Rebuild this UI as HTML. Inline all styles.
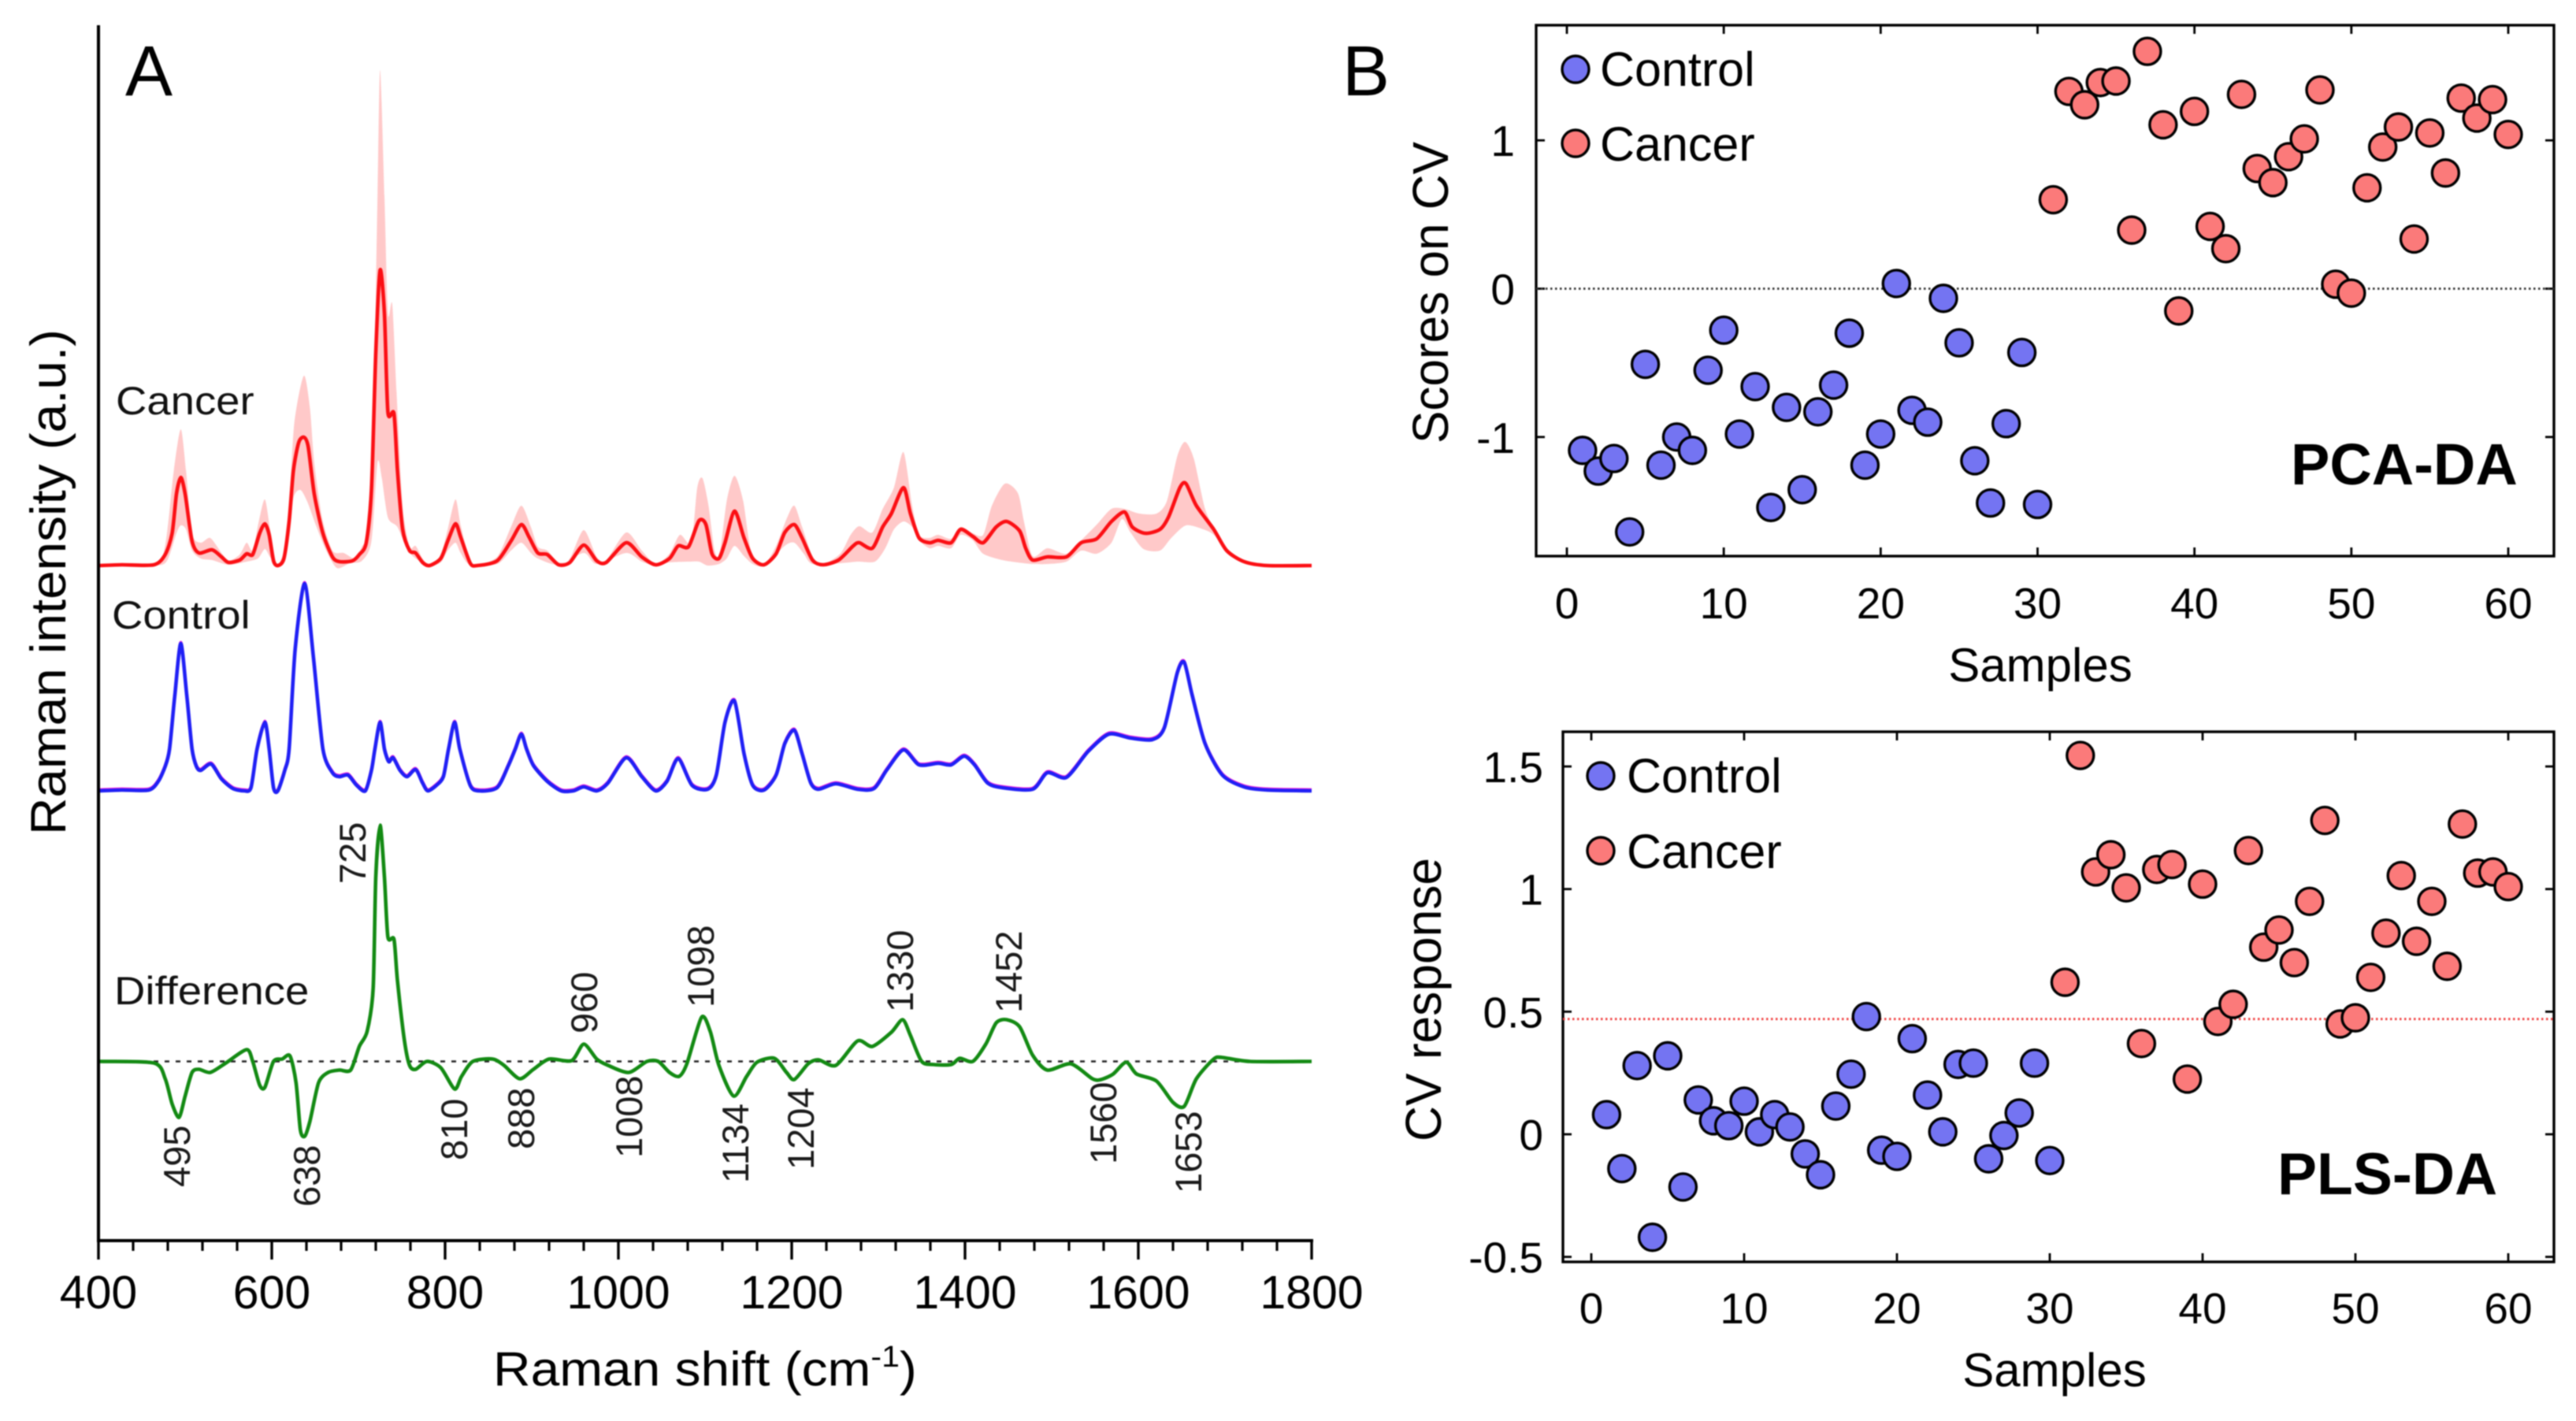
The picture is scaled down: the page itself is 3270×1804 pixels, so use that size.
<!DOCTYPE html>
<html lang="en">
<head>
<meta charset="utf-8">
<title>Raman spectra and PCA-DA / PLS-DA scores</title>
<style>
html,body{margin:0;padding:0;background:#fff;width:3270px;height:1804px;overflow:hidden}
svg{display:block;filter:blur(.9px)}
text{font-family:"Liberation Sans",sans-serif;fill:#000}
.peak{font-size:47px;fill:#1a1a1a}
.name{font-size:50px;fill:#111}
</style>
</head>
<body>
<svg id="fig" xmlns="http://www.w3.org/2000/svg" width="3270" height="1804" viewBox="0 0 3270 1804">
  <rect width="3270" height="1804" fill="#fff"/>
  <g id="panelA"></g>
  <g id="panelB1"></g>
  <g id="panelB2"></g>

  <text x="159" y="121" font-size="90">A</text>
  <text x="1704" y="121" font-size="90">B</text>

  <text transform="translate(83,1060) rotate(-90)" font-size="63" textLength="642" lengthAdjust="spacingAndGlyphs">Raman intensity (a.u.)</text>
  <text transform="translate(626,1759) scale(1.08,1)" font-size="61">Raman shift (cm<tspan font-size="38" dy="-24">-1</tspan><tspan dy="24">)</tspan></text>

  <text class="name" transform="translate(147,526) scale(1.09,1)">Cancer</text>
  <text class="name" transform="translate(142,798) scale(1.09,1)">Control</text>
  <text class="name" transform="translate(145,1275) scale(1.09,1)">Difference</text>

  <text class="peak" transform="translate(464,1122) rotate(-90)">725</text>
  <text class="peak" transform="translate(241,1507) rotate(-90)">495</text>
  <text class="peak" transform="translate(406,1532) rotate(-90)">638</text>
  <text class="peak" transform="translate(593,1473) rotate(-90)">810</text>
  <text class="peak" transform="translate(678,1459) rotate(-90)">888</text>
  <text class="peak" transform="translate(758,1312) rotate(-90)">960</text>
  <text class="peak" transform="translate(815,1470) rotate(-90)">1008</text>
  <text class="peak" transform="translate(906,1279) rotate(-90)">1098</text>
  <text class="peak" transform="translate(950,1502) rotate(-90)">1134</text>
  <text class="peak" transform="translate(1033,1485) rotate(-90)">1204</text>
  <text class="peak" transform="translate(1159,1285) rotate(-90)">1330</text>
  <text class="peak" transform="translate(1297,1286) rotate(-90)">1452</text>
  <text class="peak" transform="translate(1417,1478) rotate(-90)">1560</text>
  <text class="peak" transform="translate(1525,1515) rotate(-90)">1653</text>

  <text transform="translate(1838,563) rotate(-90)" font-size="64" textLength="383" lengthAdjust="spacingAndGlyphs">Scores on CV</text>
  <text x="2590" y="865" font-size="60" text-anchor="middle">Samples</text>
  <text x="2031" y="109" font-size="61">Control</text>
  <text x="2031" y="204" font-size="61">Cancer</text>
  <text x="2908" y="615" font-size="74" font-weight="700">PCA-DA</text>

  <text transform="translate(1829,1449) rotate(-90)" font-size="64" textLength="360" lengthAdjust="spacingAndGlyphs">CV response</text>
  <text x="2608" y="1760" font-size="60" text-anchor="middle">Samples</text>
  <text x="2065" y="1006" font-size="61">Control</text>
  <text x="2065" y="1102" font-size="61">Cancer</text>
  <text x="2891" y="1516" font-size="75" font-weight="700">PLS-DA</text>
</svg>
<script>
// ---------- Panel A data (Raman shift in cm-1, intensity in a.u.) ----------
const shiftTickLabels = [400,600,800,1000,1200,1400,1600,1800];
const shiftMinorTicks = [440,480,520,560,640,680,720,760,840,880,920,960,1040,1080,1120,1160,1240,1280,1320,1360,1440,1480,1520,1560,1640,1680,1720,1760];

const cancerShift = [400,427,464,477,485,490,495,500,508,516,531,542,550,563,571,578,586,592,597,602,607,614,620,625,631,637,642,649,659,670,678,693,701,709,715,720,725,730,734,741,745,751,759,766,774,782,795,803,812,818,829,837,860,876,888,897,907,918,931,944,960,975,986,1009,1027,1043,1059,1069,1081,1093,1101,1108,1116,1123,1134,1145,1155,1168,1182,1192,1203,1212,1224,1236,1254,1271,1278,1293,1305,1315,1329,1337,1347,1359,1369,1384,1395,1409,1421,1436,1448,1463,1470,1478,1495,1517,1534,1552,1569,1584,1593,1608,1625,1635,1648,1655,1667,1687,1702,1722,1749,1800];
const cancerMean = [0,1,1,14,41,91,112,91,31,16,20,11,4,7,15,14,41,53,39,6,0,9,56,121,156,163,151,91,41,11,5,6,14,29,96,270,375,320,195,193,121,46,19,16,4,0,9,31,53,36,3,0,6,31,52,36,16,14,1,4,26,6,4,29,11,1,9,25,24,57,52,15,9,29,69,35,9,1,15,42,52,35,7,1,7,25,29,22,49,66,99,66,35,29,32,29,46,37,29,49,56,44,22,7,11,11,29,34,56,68,49,41,46,62,99,104,76,46,19,5,0,0];

const bandUpperShift = [400,464,477,487,495,501,508,518,529,542,550,563,571,578,585,592,598,604,608,614,620,626,637,644,649,658,670,683,696,704,712,717,722,725,730,734,739,744,751,759,766,774,782,795,803,812,818,829,837,860,876,888,899,907,918,931,944,960,975,986,1009,1027,1043,1059,1071,1084,1091,1097,1104,1111,1117,1125,1134,1144,1153,1168,1182,1194,1203,1212,1224,1236,1256,1268,1278,1293,1305,1318,1329,1339,1347,1359,1369,1384,1395,1409,1421,1431,1446,1461,1468,1478,1495,1517,1534,1552,1569,1584,1601,1621,1633,1645,1654,1664,1677,1690,1702,1722,1749,1800];
const bandUpper = [0,1,26,121,173,121,41,29,35,16,6,14,29,19,56,84,46,8,1,11,76,181,241,200,131,61,19,16,9,24,46,171,469,629,469,320,332,220,76,24,25,9,0,14,46,84,51,5,1,11,49,76,49,24,19,4,9,45,11,7,42,19,2,15,39,29,99,111,76,19,15,82,114,82,19,2,25,59,76,49,12,2,15,39,50,42,72,99,144,76,39,35,39,34,49,41,39,76,104,92,56,12,22,15,32,52,72,72,66,66,82,139,157,136,72,42,19,5,0,0];

const bandLowerShift = [400,464,479,490,495,501,508,518,531,550,571,584,592,598,607,620,625,633,641,651,662,675,690,704,715,722,727,734,745,756,766,782,795,803,812,818,829,860,876,888,899,907,931,960,975,1009,1027,1043,1059,1081,1093,1103,1116,1125,1134,1145,1155,1168,1192,1203,1214,1224,1256,1276,1296,1308,1318,1329,1339,1347,1359,1369,1384,1395,1409,1421,1443,1468,1478,1495,1517,1534,1552,1569,1581,1591,1606,1625,1638,1655,1675,1687,1702,1722,1749,1800];
const bandLower = [0,0,6,41,51,46,19,9,7,1,5,9,21,11,0,36,86,96,81,51,21,-3,3,6,31,131,111,61,49,21,9,0,4,19,29,16,1,2,19,29,16,9,1,16,2,16,5,0,4,5,5,0,2,9,25,12,2,0,25,29,15,2,3,5,5,22,46,56,49,32,22,25,22,39,32,15,7,3,2,2,5,19,15,29,59,42,21,19,35,51,46,39,19,5,0,0];

const controlShift = [400,427,458,469,477,482,488,495,502,508,513,518,530,542,555,568,576,583,592,597,602,607,615,620,627,638,648,659,670,678,688,698,708,715,719,725,730,735,740,748,756,766,774,780,790,798,804,811,817,829,839,860,873,881,888,894,902,918,934,948,960,975,988,1009,1027,1043,1056,1069,1085,1103,1113,1123,1134,1145,1155,1168,1182,1192,1203,1212,1222,1231,1251,1276,1295,1310,1329,1347,1369,1384,1399,1411,1426,1443,1478,1495,1517,1542,1566,1591,1616,1630,1645,1653,1662,1677,1697,1722,1749,1800];
const controlMean = [0,1,1,12,31,53,120,187,120,53,31,26,34,15,3,0,4,53,87,53,4,0,26,53,180,263,170,53,23,18,20,7,0,26,53,87,53,37,42,26,18,27,10,0,7,18,53,87,53,7,0,4,32,53,72,53,32,12,0,0,5,0,10,42,18,0,12,41,7,2,20,87,114,47,7,1,20,60,77,47,10,2,9,2,3,27,52,33,35,33,44,33,10,4,2,23,17,50,72,67,65,80,150,163,122,60,20,5,1,0];

const diffShift = [400,464,477,485,493,500,508,516,529,547,571,578,586,592,602,612,621,628,633,638,644,654,665,678,691,701,710,717,720,725,730,734,741,745,753,759,766,779,795,811,819,832,855,868,886,902,920,946,960,975,988,1012,1033,1046,1059,1070,1079,1096,1106,1116,1133,1148,1160,1180,1194,1203,1219,1231,1251,1276,1293,1315,1328,1337,1350,1364,1384,1394,1409,1424,1436,1448,1463,1478,1495,1522,1547,1557,1571,1586,1598,1621,1640,1653,1667,1687,1697,1729,1800];
const diffValues = [0,-2,-22,-54,-71,-44,-14,-10,-14,-2,15,0,-30,-33,0,3,7,-27,-87,-95,-76,-27,-14,-11,-11,19,38,93,234,300,234,158,155,103,27,-5,-10,0,-8,-35,-19,0,3,-5,-22,-10,3,1,22,3,-5,-14,0,0,-14,-19,-3,56,38,-5,-44,-19,-1,4,-14,-23,-3,2,-5,26,19,37,53,33,0,-4,-4,4,0,22,49,53,44,8,-11,-3,-22,-23,-16,-1,-16,-25,-52,-57,-22,3,5,0,0];

// ---------- Panel B data ----------
const pcaControlScores = [-1.09,-1.23,-1.145,-1.64,-0.51,-1.19,-1.0,-1.09,-0.55,-0.28,-0.98,-0.66,-1.475,-0.80,-1.355,-0.83,-0.65,-0.30,-1.19,-0.98,0.035,-0.82,-0.90,-0.065,-0.365,-1.16,-1.445,-0.91,-0.43,-1.455];
const pcaCancerScores = [0.60,1.33,1.24,1.39,1.40,0.395,1.60,1.105,-0.15,1.195,0.42,0.27,1.31,0.81,0.715,0.89,1.01,1.34,0.03,-0.03,0.68,0.955,1.09,0.335,1.05,0.78,1.285,1.15,1.275,1.04];
const plsControlResponse = [0.08,-0.14,0.28,-0.42,0.32,-0.215,0.14,0.055,0.035,0.135,0.01,0.08,0.03,-0.08,-0.165,0.115,0.245,0.48,-0.065,-0.09,0.39,0.16,0.01,0.285,0.29,-0.10,-0.005,0.087,0.29,-0.107];
const plsCancerResponse = [0.62,1.545,1.07,1.14,1.005,0.37,1.08,1.10,0.225,1.02,0.46,0.53,1.157,0.763,0.833,0.70,0.95,1.28,0.45,0.475,0.64,0.82,1.055,0.787,0.95,0.685,1.265,1.065,1.07,1.01];
const sampleTicks = [0,10,20,30,40,50,60];
const pcaYTicks = [-1,0,1];
const pcaYTickLabels = ['-1','0','1'];
const pcaThreshold = 0;
const plsYTicks = [-0.5,0,0.5,1,1.5];
const plsYTickLabels = ['-0.5','0','0.5','1','1.5'];
const plsThreshold = 0.47;

// ---------- helpers ----------
const NS = 'http://www.w3.org/2000/svg';
function make(tag, attrs, parent) {
  const el = document.createElementNS(NS, tag);
  for (const k in attrs) el.setAttribute(k, attrs[k]);
  parent.appendChild(el);
  return el;
}
function curve(xs, ys, move) {
  let d = (move ? 'M' : 'L') + xs[0].toFixed(1) + ' ' + ys[0].toFixed(1);
  const t = 0.13;
  for (let i = 0; i < xs.length - 1; i++) {
    const a = Math.max(i - 1, 0), b = Math.min(i + 2, xs.length - 1);
    d += 'C' + (xs[i] + (xs[i + 1] - xs[a]) * t).toFixed(1) + ' ' + (ys[i] + (ys[i + 1] - ys[a]) * t).toFixed(1) +
         ' ' + (xs[i + 1] - (xs[b] - xs[i]) * t).toFixed(1) + ' ' + (ys[i + 1] - (ys[b] - ys[i]) * t).toFixed(1) +
         ' ' + xs[i + 1].toFixed(1) + ' ' + ys[i + 1].toFixed(1);
  }
  return d;
}

// ---------- Panel A ----------
const A = document.getElementById('panelA');
const shiftX = v => 125 + (v - 400) * 1540 / 1400;
const intensityY = (baseline, v) => baseline - v;
const cancerBase = 718, controlBase = 1004, diffBase = 1347.5;

const bandPath = curve(bandUpperShift.map(shiftX), bandUpper.map(v => intensityY(cancerBase, v)), true) +
  curve(bandLowerShift.map(shiftX).reverse(), bandLower.map(v => intensityY(cancerBase, v)).reverse(), false) + 'Z';
const band = make('path', {d: bandPath, fill: '#ffc9c9', stroke: 'none'}, A);



const cancerLine = make('path', {d: curve(cancerShift.map(shiftX), cancerMean.map(v => intensityY(cancerBase, v)), true), fill: 'none', stroke: '#fb0f14', 'stroke-width': 4.6, 'stroke-linejoin': 'round'}, A);



const controlPath = curve(controlShift.map(shiftX), controlMean.map(v => intensityY(controlBase, v)), true);
const controlHalo = make('path', {d: controlPath, fill: 'none', stroke: '#f020e0', 'stroke-width': 3.8, transform: 'translate(0,-1.5)', 'stroke-linejoin': 'round'}, A);


const controlLine = make('path', {d: controlPath, fill: 'none', stroke: '#2020f5', 'stroke-width': 4.6, 'stroke-linejoin': 'round'}, A);



const zeroDiff = make('line', {x1: shiftX(400), x2: shiftX(1800), y1: diffBase, y2: diffBase, stroke: '#222', 'stroke-width': 2.4, 'stroke-dasharray': '6 8'}, A);


const diffLine = make('path', {d: curve(diffShift.map(shiftX), diffValues.map(v => intensityY(diffBase, v)), true), fill: 'none', stroke: '#138a13', 'stroke-width': 4.6, 'stroke-linejoin': 'round'}, A);



const axisY = make('line', {x1: 125, x2: 125, y1: 32, y2: 1577, stroke: '#000', 'stroke-width': 4}, A);


const axisX = make('line', {x1: 123, x2: 1667, y1: 1575, y2: 1575, stroke: '#000', 'stroke-width': 4}, A);



shiftMinorTicks.forEach(v => {
  const t = make('line', {x1: shiftX(v), x2: shiftX(v), y1: 1575, y2: 1588, stroke: '#000', 'stroke-width': 3.2}, A);
  
  
});
shiftTickLabels.forEach(v => {
  const t = make('line', {x1: shiftX(v), x2: shiftX(v), y1: 1575, y2: 1599, stroke: '#000', 'stroke-width': 3.4}, A);
  
  
  const l = make('text', {x: shiftX(v), y: 1661, 'text-anchor': 'middle', 'font-size': 59}, A);
  l.textContent = v;
  
  
});

// ---------- Panel B ----------
function scatter(g, box, xScale, yScale, yTicks, yLabels, threshold, lineColor, controlVals, cancerVals, labelX, tickBase, legendX, legendYs) {
  const frame = make('rect', {x: box.l, y: box.t, width: box.r - box.l, height: box.b - box.t, fill: 'none', stroke: '#000', 'stroke-width': 3.4}, g);
  
  
  sampleTicks.forEach(v => {
    const a = make('line', {x1: xScale(v), x2: xScale(v), y1: box.b, y2: box.b - 11, stroke: '#000', 'stroke-width': 2.8}, g);
    
    
    const b = make('line', {x1: xScale(v), x2: xScale(v), y1: box.t, y2: box.t + 11, stroke: '#000', 'stroke-width': 2.8}, g);
    
    
    const l = make('text', {x: xScale(v), y: tickBase, 'text-anchor': 'middle', 'font-size': 55}, g);
    l.textContent = v;
    
    
  });
  yTicks.forEach((v, i) => {
    const a = make('line', {x1: box.l, x2: box.l + 11, y1: yScale(v), y2: yScale(v), stroke: '#000', 'stroke-width': 2.8}, g);
    
    
    const b = make('line', {x1: box.r, x2: box.r - 11, y1: yScale(v), y2: yScale(v), stroke: '#000', 'stroke-width': 2.8}, g);
    
    
    const l = make('text', {x: labelX, y: yScale(v) + 20, 'text-anchor': 'end', 'font-size': 55}, g);
    l.textContent = yLabels[i];
    
    
  });
  const th = make('line', {x1: box.l, x2: box.r, y1: yScale(threshold), y2: yScale(threshold), stroke: lineColor, 'stroke-width': 2.8, 'stroke-dasharray': '2.5 3.5'}, g);
  
  
  controlVals.forEach((v, i) => {
    const c = make('circle', {cx: xScale(i + 1), cy: yScale(v), r: 17, fill: '#7474f2', stroke: '#000', 'stroke-width': 3.4}, g);
    
    
  });
  cancerVals.forEach((v, i) => {
    const c = make('circle', {cx: xScale(i + 31), cy: yScale(v), r: 17, fill: '#fb7a7a', stroke: '#000', 'stroke-width': 3.4}, g);
    
    
  });
  const lc = make('circle', {cx: legendX, cy: legendYs[0], r: 17, fill: '#7474f2', stroke: '#000', 'stroke-width': 3.4}, g);
  
  
  const lr = make('circle', {cx: legendX, cy: legendYs[1], r: 17, fill: '#fb7a7a', stroke: '#000', 'stroke-width': 3.4}, g);
  
  
}

const pcaX = v => 1989 + v * (3184 - 1989) / 60;
const pcaY = v => 366.5 - v * 188.3;
scatter(document.getElementById('panelB1'), {l: 1950, r: 3242, t: 32, b: 706}, pcaX, pcaY, pcaYTicks, pcaYTickLabels, pcaThreshold, '#333', pcaControlScores, pcaCancerScores, 1923, 785, 2000, [88, 182]);

const plsX = v => 2020 + v * (3184 - 2020) / 60;
const plsY = v => 1440 - v * 311.3;
scatter(document.getElementById('panelB2'), {l: 1984, r: 3242, t: 929, b: 1602}, plsX, plsY, plsYTicks, plsYTickLabels, plsThreshold, '#f04040', plsControlResponse, plsCancerResponse, 1959, 1680, 2032, [985, 1080]);
</script>
</body>
</html>
